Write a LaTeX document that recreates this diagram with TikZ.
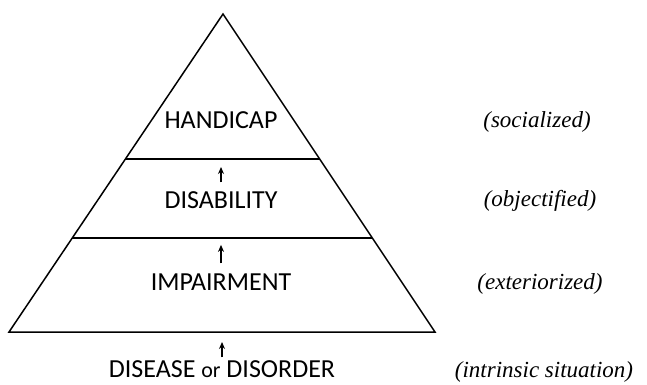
\documentclass[tikz,border=0pt]{standalone}
\usepackage{fontspec}
\setmainfont{Carlito}
\newfontfamily\notefont{Liberation Serif}
\usetikzlibrary{arrows.meta,positioning,calc}

\begin{document}
\begin{tikzpicture}[x=1pt,y=-1pt]
		\tikzset{
		  level/.style={font=\fontsize{26}{30}\selectfont, inner sep=0pt},
		  note/.style={font=\notefont\itshape\fontsize{23}{27}\selectfont, inner sep=0pt},
		  up/.style={-{Stealth[length=7pt,width=6pt]}, line width=1.5pt},
		  rim/.style={line width=1.5pt}
		}
		\useasboundingbox (0,0) rectangle (647,384);
		% pyramid
		\coordinate (top) at (223,14);
		\coordinate (bl) at (9,332);
		\coordinate (br) at (435,332);
		\draw[rim, line join=miter] (top) -- (br) -- (bl) -- cycle;
		\coordinate (l1a) at ($(top)!0.456!(bl)$);
		\coordinate (l1b) at ($(top)!0.456!(br)$);
		\coordinate (l2a) at ($(top)!0.704!(bl)$);
		\coordinate (l2b) at ($(top)!0.704!(br)$);
		\draw[rim] (l1a) -- (l1b);
		\draw[rim] (l2a) -- (l2b);
		% levels
		\node[level] (hand) at (221,120) {HANDICAP};
		\node[level] (disab) at (221,200) {DISABILITY};
		\node[level] (impair) at (221,282) {IMPAIRMENT};
		\node[level] (disease) at (222,369) {DISEASE {\fontsize{22}{26}\selectfont or} DISORDER};
		\draw[up, shorten <=9pt, shorten >=8pt] (disab.north) -- (disab.north |- l1a);
		\draw[up, shorten <=10pt, shorten >=7pt] (impair.north) -- (impair.north |- l2a);
		\draw[up, shorten <=3pt, shorten >=10pt] (disease.north) -- (disease.north |- bl);
		% situations
		\node[note] (soc) at (537,122) {(socialized)};
		\node[note] (obj) at (540,201) {(objectified)};
		\node[note] (ext) at (540,284) {(exteriorized)};
		\node[note] (intr) at (544,372) {(intrinsic situation)};
	\end{tikzpicture}
\end{document}
